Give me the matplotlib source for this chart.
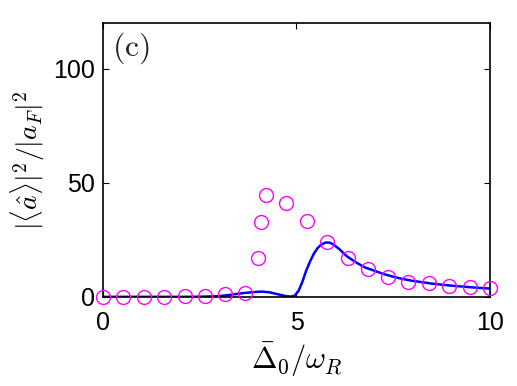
import numpy as np
import matplotlib
matplotlib.use("Agg")
import matplotlib.pyplot as plt

plt.rcParams['font.family'] = ['Liberation Sans', 'DejaVu Sans']
plt.rcParams['mathtext.fontset'] = 'cm'

# numerical (line) data
lineX = [0, 1, 2, 2.5, 3.0, 3.3, 3.6, 3.9, 4.1, 4.3, 4.5, 4.7, 4.85, 4.95, 5.05, 5.15,
         5.25, 5.35, 5.45, 5.55, 5.65, 5.75, 5.85, 5.95, 6.1, 6.3, 6.5, 6.75, 7.0,
         7.25, 7.5, 7.75, 8.0, 8.5, 9.0, 9.5, 10]
lineY = [0, 0, 0, 0.05, 0.3, 0.9, 1.6, 2.1, 2.3, 2.0, 1.2, 0.4, 0.1, 0.5, 2.5, 6.5,
         11.5, 15.5, 19.0, 21.5, 23.0, 23.8, 23.8, 23.0, 21.0, 17.8, 15.5, 13.0, 11.5,
         10.0, 8.8, 7.8, 7.0, 5.8, 4.9, 4.2, 3.6]

# circle points
dotX = [0.0, 0.53, 1.05, 1.58, 2.11, 2.63, 3.16, 3.68, 4.0, 4.08, 4.21, 4.74,
        5.26, 5.79, 6.32, 6.84, 7.37, 7.89, 8.42, 8.95, 9.47, 10.0]
dotY = [0.0, 0.0, 0.0, 0.1, 0.2, 0.3, 1.2, 1.9, 17.2, 32.9, 44.5, 41.3,
        33.3, 24.2, 16.9, 12.1, 8.9, 6.7, 6.0, 4.8, 4.5, 3.8]

fig = plt.figure(figsize=(5.17, 3.86), dpi=100)
ax = fig.add_axes([0.199, 0.231, 0.749, 0.709])

ax.plot(lineX, lineY, color="blue", lw=1.8, zorder=2)
ax.plot(dotX, dotY, "o", mfc="none", mec="magenta", ms=10, mew=1.0, clip_on=False, zorder=3)

ax.set_xlim(0, 10)
ax.set_ylim(0, 120)
ax.set_xticks([0, 5, 10])
ax.set_yticks([0, 50, 100])
ax.tick_params(direction="in", top=True, right=True, labelsize=18, length=4, width=0.8)
ax.tick_params(axis="x", pad=10)
ax.tick_params(axis="y", pad=6)
for s in ax.spines.values():
    s.set_linewidth(1.2)

ax.set_xlabel(r"$\bar{\Delta}_0/\omega_R$", fontsize=22, labelpad=4)
ax.set_ylabel(r"$|\langle\hat{a}\rangle|^2/|a_F|^2$", fontsize=20, labelpad=4)
ax.text(0.024, 0.975, r"$(\mathrm{c})$", transform=ax.transAxes, fontsize=23,
        va="top", ha="left", color="#222222")

fig.savefig("out.png", dpi=100)
